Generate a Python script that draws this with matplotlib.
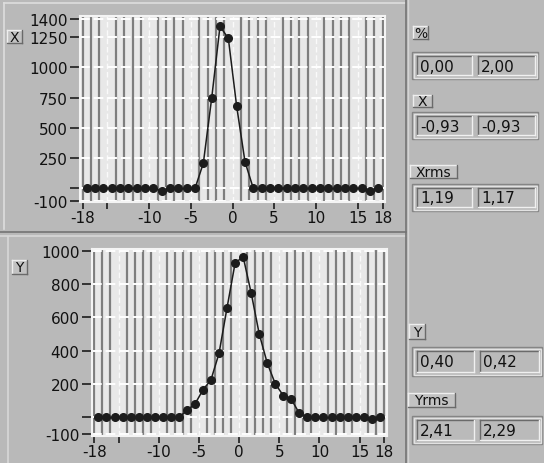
import numpy as np
import matplotlib
matplotlib.use("Agg")
import matplotlib.pyplot as plt
from matplotlib.patches import Rectangle

plt.rcParams['font.family'] = ['DejaVu Sans']

# bin centres (same for both profiles)
bins = np.arange(-17.5, 18.0, 1.0)

# X profile counts
x_counts = [0, 0, 0, 0, 0, 0, 0, 0, 0, -20, 0, 0, 0, 0,
            209, 745, 1340, 1240, 679, 220,
            0, 0, 0, 0, 0, 0, 0, 0, 0, 0, 0, 0, 0, 0, -18, 0]

# Y profile counts
y_counts = [0, 0, 0, 0, 0, 0, 0, 0, 0, 0, 0,
            42, 80, 165, 226, 384, 658, 925, 964, 747, 502, 326, 202, 131, 109, 24,
            0, 0, 0, 0, 0, 0, 0, 0, -10, 0]

x_ticks = [-18, -15, -10, -5, 0, 5, 10, 15, 18]
x_ticklabels = ['-18', '', '-10', '-5', '0', '5', '10', '15', '18']
top_yticks = [1400, 1250, 1000, 750, 500, 250, 0, -100]
top_ylabels = ['1400', '1250', '1000', '750', '500', '250', '', '-100']
bot_yticks = [1000, 800, 600, 400, 200, 0, -100]
bot_ylabels = ['1000', '800', '600', '400', '200', '', '-100']

# indicator readouts
readouts = [
    ('%', ['0,00', '2,00']),
    ('X', ['-0,93', '-0,93']),
    ('Xrms', ['1,19', '1,17']),
    ('Y', ['0,40', '0,42']),
    ('Yrms', ['2,41', '2,29']),
]

W, H = 544, 464
BG = '#b9b9b9'
PLOT_BG = '#e8e8e8'

fig = plt.figure(figsize=(W / 100, H / 100), dpi=100, facecolor=BG)


def px_rect(x0, y0, x1, y1):
    return [x0 / W, 1 - y1 / H, (x1 - x0) / W, (y1 - y0) / H]


# panel layer for bevels and widgets
pan = fig.add_axes([0, 0, 1, 1], zorder=0)
pan.set_xlim(0, W)
pan.set_ylim(H, 0)
pan.axis('off')

# panel separators
pan.plot([4, 405], [4, 4], color='#dedede', lw=1.2)
pan.plot([4, 4], [4, 230], color='#dedede', lw=1.2)
pan.plot([0, 406], [233, 233], color='#747474', lw=1.2)
pan.plot([0, 406], [237, 237], color='#d8d8d8', lw=1.2)
pan.plot([8, 8], [238, H], color='#d8d8d8', lw=1.2)
pan.plot([406, 406], [0, H], color='#747474', lw=1.2)
pan.plot([408, 408], [0, H], color='#d4d4d4', lw=1.0)


def button(x0, y0, x1, y1, text):
    pan.add_patch(Rectangle((x0, y0), x1 - x0, y1 - y0, facecolor='#c2c2c2',
                            edgecolor='none'))
    pan.plot([x0, x1], [y0, y0], color='#eeeeee', lw=1)
    pan.plot([x0, x0], [y0, y1], color='#eeeeee', lw=1)
    pan.plot([x0, x1], [y1, y1], color='#6a6a6a', lw=1)
    pan.plot([x1, x1], [y0, y1], color='#6a6a6a', lw=1)
    pan.text((x0 + x1) / 2, (y0 + y1) / 2 + 0.5, text, ha='center', va='center',
             fontsize=10, color='#111111')


def readout(x0, y0, x1, y1, values):
    # outer frame
    pan.add_patch(Rectangle((x0, y0), x1 - x0, y1 - y0, facecolor='none',
                            edgecolor='#858585', lw=1))
    pan.add_patch(Rectangle((x0 + 1.5, y0 + 1.5), x1 - x0 - 3, y1 - y0 - 3,
                            facecolor='none', edgecolor='#e2e2e2', lw=1))
    mid = (x0 + x1) / 2
    for i, v in enumerate(values):
        bx0 = x0 + 5 if i == 0 else mid + 3
        bx1 = mid - 3 if i == 0 else x1 - 3
        by0, by1 = y0 + 4, y1 - 4
        pan.add_patch(Rectangle((bx0, by0), bx1 - bx0, by1 - by0,
                                facecolor='#bababa', edgecolor='none'))
        pan.plot([bx0, bx1], [by0, by0], color='#6a6a6a', lw=1)
        pan.plot([bx0, bx0], [by0, by1], color='#6a6a6a', lw=1)
        pan.plot([bx0, bx1], [by1, by1], color='#f0f0f0', lw=1)
        pan.plot([bx1, bx1], [by0, by1], color='#f0f0f0', lw=1)
        pan.text(bx0 + 3, (by0 + by1) / 2 + 0.5, v, ha='left', va='center',
                 fontsize=11, color='#111111')


# buttons next to the graphs
button(7, 31, 22, 44, 'X')
button(12, 261, 27, 275, 'Y')

# right-side indicators
label_boxes = [(413, 27, 428, 40), (413, 96, 432, 108), (410, 166, 457, 179),
               (409, 325, 425, 340), (408, 394, 455, 408)]
frames = [(412, 53, 538, 80), (412, 113, 538, 140), (412, 185, 538, 212),
          (412, 348, 542, 377), (412, 417, 542, 445)]
for (name, vals), lb, fr in zip(readouts, label_boxes, frames):
    button(*lb, name)
    readout(*fr, vals)


def graph(rect, xlim, ylim, yticks, ylabels, values):
    ax = fig.add_axes(px_rect(*rect), zorder=2)
    ax.set_facecolor(PLOT_BG)
    ax.set_xlim(*xlim)
    ax.set_ylim(*ylim)
    # minor grid every unit, except the major positions
    for v in range(-18, 19):
        if v % 5 != 0:
            ax.axvline(v, color='#7e7e7e', lw=1.6, zorder=1)
        else:
            ax.axvline(v, color='#fafafa', lw=1.0, ls=(0, (4, 2)), zorder=1)
    for t in yticks:
        ax.axhline(t, color='#ffffff', lw=1.4, ls=(0, (5, 2)), zorder=1)
    ax.plot(bins, values, color='#1c1c1c', lw=1.1, marker='o', ms=5.5,
            mfc='#1c1c1c', mec='#1c1c1c', zorder=3)
    ax.set_xticks(x_ticks)
    ax.set_xticklabels(x_ticklabels)
    ax.set_yticks(yticks)
    ax.set_yticklabels(ylabels)
    ax.tick_params(axis='y', direction='out', length=7, width=1.2,
                   color='#1c1c1c', labelsize=11, labelcolor='#111111', pad=2)
    ax.tick_params(axis='x', direction='out', length=5, width=1.2,
                   color='#1c1c1c', labelsize=11, labelcolor='#111111', pad=1)
    for s in ax.spines.values():
        s.set_color('#f4f4f4')
        s.set_linewidth(1.5)
    return ax


graph((80, 17, 385, 203), (-18.3, 18.3), (-112, 1425),
      top_yticks, top_ylabels, x_counts)
graph((92, 250, 387, 437), (-18.3, 18.4), (-111, 1010),
      bot_yticks, bot_ylabels, y_counts)

fig.savefig('out.png', dpi=100, facecolor=BG)
